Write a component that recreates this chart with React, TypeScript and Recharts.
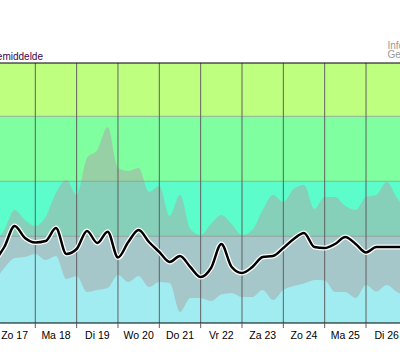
import React from 'react'
import {
  ComposedChart,
  Area,
  Line,
  XAxis,
  YAxis,
  ReferenceArea,
  ReferenceLine,
} from 'recharts'

// 6-hourly steps, t = days since Zo 17 00:00
const meanValues = [
  6.1, 7.6, 9.7, 8.5, 8.05, 8.2, 9.5, 6.9, 7.4, 9.2, 8.0, 9.13, 6.55, 8.1, 9.3, 8.1, 7.1, 6.1, 6.7, 5.6,
  4.6, 5.5, 7.9, 5.6, 5.0, 5.6, 6.6, 6.7, 7.5, 8.4, 9.0, 7.6, 7.5, 7.9, 8.6, 7.9, 7.05, 7.6, 7.6, 7.6, 7.6,
]
const maxValues = [
  8.1, 9.3, 11.3, 10.3, 9.7, 10.6, 13.0, 14.3, 12.8, 16.5, 17.3, 19.6, 15.5, 15.2, 15.5, 13.1, 13.7, 10.7, 12.8, 9.4,
  8.8, 9.9, 10.8, 9.9, 8.8, 9.3, 11.3, 12.8, 12.1, 13.4, 13.8, 11.4, 12.6, 12.6, 11.7, 11.3, 12.6, 12.8, 14.1, 12.5, 11.3,
]
const minValues = [
  4.1, 5.5, 6.5, 6.6, 6.9, 6.3, 6.7, 4.4, 4.7, 3.1, 3.3, 3.5, 4.8, 4.1, 4.7, 3.6, 4.1, 4.0, 1.1, 2.5,
  2.5, 2.2, 2.85, 3.0, 2.6, 2.6, 3.3, 2.3, 3.3, 3.7, 3.95, 4.3, 4.25, 3.1, 3.1, 2.5, 3.8, 3.15, 3.8, 3.1, 2.7,
]

const dayLabels = ['Zo 17', 'Ma 18', 'Di 19', 'Wo 20', 'Do 21', 'Vr 22', 'Za 23', 'Zo 24', 'Ma 25', 'Di 26']
const dayLines = [1, 2, 3, 4, 5, 6, 7, 8, 9]
const labelTicks = [0.5, 1.5, 2.5, 3.5, 4.5, 5.5, 6.5, 7.5, 8.5, 9.5]
const allTicks = [...dayLines, ...labelTicks].sort((a, b) => a - b)

const bandEdges = [0, 8.67, 14.17, 20.67, 26]
const bandColors = ['#a0ecf0', '#5cfccb', '#80ffa0', '#bfff80']

const X_DOMAIN: [number, number] = [0.146, 9.822]
const FONT = '"Liberation Sans", Arial, sans-serif'

const data = meanValues.map((mean, i) => ({
  t: i * 0.25,
  mean,
  range: [minValues[i], maxValues[i]],
}))

// integer ticks = day boundary tick marks, half ticks = day names
function DayTick(props: any) {
  const { x, y, payload } = props
  const v = payload.value
  if (Number.isInteger(v)) {
    return <line x1={x} x2={x} y1={y} y2={y + 5} stroke="#606060" />
  }
  return (
    <text x={x} y={y + 16} textAnchor="middle" fontSize={10.5} fontFamily={FONT} fill="#000">
      {dayLabels[Math.floor(v)]}
    </text>
  )
}

export default function App() {
  return (
    <div style={{ position: 'absolute', left: 0, top: 0, width: 400, height: 364 }}>
      <ComposedChart width={400} height={364} data={data} margin={{ top: 63, right: 0, bottom: 0, left: 0 }}>
        <XAxis
          dataKey="t"
          type="number"
          domain={X_DOMAIN}
          allowDataOverflow
          ticks={allTicks}
          tick={DayTick}
          tickLine={false}
          tickSize={0}
          tickMargin={0}
          interval={0}
          axisLine={{ stroke: '#000' }}
          height={41}
        />
        <YAxis type="number" domain={[0, 26]} allowDataOverflow hide />

        {bandColors.map((c, i) => (
          <ReferenceArea key={c} y1={bandEdges[i]} y2={bandEdges[i + 1]} fill={c} fillOpacity={1} stroke="none" />
        ))}

        <Area
          dataKey="range"
          type="monotone"
          stroke="none"
          fill="#aaaaaa"
          fillOpacity={0.55}
          isAnimationActive={false}
          activeDot={false}
        />

        {bandEdges.slice(1, 4).map((v) => (
          <ReferenceLine key={v} y={v} stroke="#8c9c94" strokeOpacity={0.8} />
        ))}
        {dayLines.map((d) => (
          <ReferenceLine key={d} x={d} stroke="#606060" />
        ))}
        <ReferenceLine y={26} stroke="#000" />

        <Line dataKey="mean" type="monotone" stroke="#fff" strokeWidth={5} dot={false} activeDot={false} isAnimationActive={false} />
        <Line dataKey="mean" type="monotone" stroke="#000" strokeWidth={2.5} dot={false} activeDot={false} isAnimationActive={false} />
      </ComposedChart>
      <svg width={400} height={364} style={{ position: 'absolute', left: 0, top: 0, pointerEvents: 'none' }}>
        <text x={43} y={59.5} textAnchor="end" fontSize={10} fontFamily={FONT} fill="#3d0050">
          Daggemiddelde
        </text>
        <text x={387.5} y={48.5} fontSize={10} fontFamily={FONT} fill="#999">
          Informatie
        </text>
        <text x={387.5} y={58} fontSize={10} fontFamily={FONT} fill="#999">
          Gemiddeld
        </text>
      </svg>
    </div>
  )
}
